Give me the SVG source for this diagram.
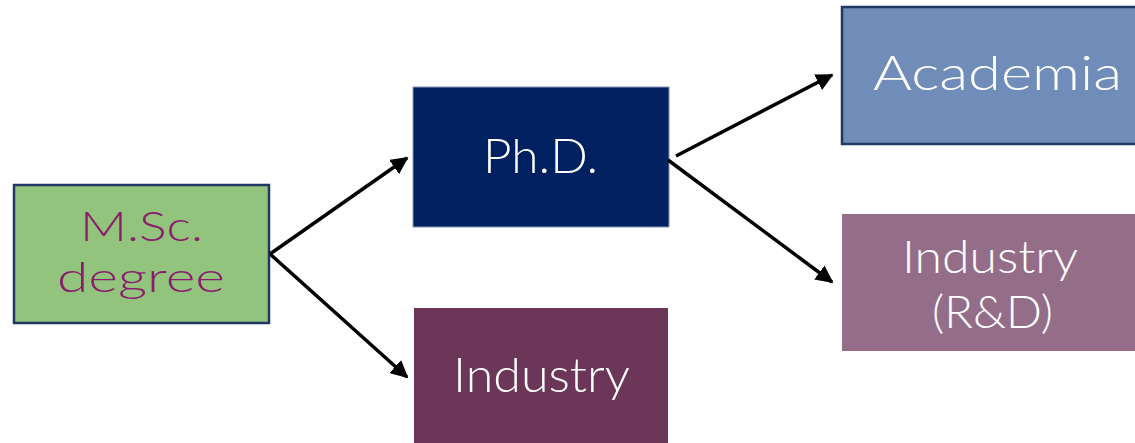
<svg xmlns="http://www.w3.org/2000/svg" width="1135" height="443" viewBox="0 0 1135 443">
<defs>
<marker id="ah" viewBox="0 0 10 10" refX="9" refY="5" markerWidth="5" markerHeight="5" orient="auto" markerUnits="strokeWidth">
<path d="M0,0 L10,5 L0,10 z" fill="#000"/>
</marker>
<style>
text{font-family:"Lato","Noto Sans",sans-serif;font-weight:300;font-size:48px;text-anchor:middle}
.w{fill:#ffffff}
.conn line{stroke:#000;stroke-width:3.5;marker-end:url(#ah)}
</style>
</defs>
<rect width="1135" height="443" fill="#fff"/>
<g id="msc">
<rect x="14" y="185" width="255" height="138" fill="#93c47d" stroke="#1f3864" stroke-width="2.5"/>
<text x="141.5" y="241" fill="#8a1d6e" style="font-size:42px" textLength="123" lengthAdjust="spacingAndGlyphs">M.Sc.</text>
<text x="141" y="292" fill="#8a1d6e" style="font-size:42px" textLength="168" lengthAdjust="spacingAndGlyphs">degree</text>
</g>
<g id="phd">
<rect x="413" y="87" width="256" height="140" fill="#002060" stroke="#8496b0" stroke-width="1"/>
<text x="540.5" y="173" class="w" textLength="115" lengthAdjust="spacingAndGlyphs">Ph.D.</text>
</g>
<g id="industry">
<rect x="414" y="308" width="254" height="135" fill="#6c3658"/>
<text x="541.5" y="392" class="w" textLength="177" lengthAdjust="spacingAndGlyphs">Industry</text>
</g>
<g id="academia">
<rect x="842" y="7" width="296" height="137" fill="#6f8db8" stroke="#1f3864" stroke-width="2.5"/>
<text x="997.5" y="90" class="w" textLength="249" lengthAdjust="spacingAndGlyphs">Academia</text>
</g>
<g id="industry-rd">
<rect x="842" y="214" width="296" height="137" fill="#946e89"/>
<text x="990" y="273" class="w" style="font-size:45px" textLength="176" lengthAdjust="spacingAndGlyphs">Industry</text>
<text x="992.5" y="328" class="w" style="font-size:45px" textLength="121" lengthAdjust="spacingAndGlyphs">(R&amp;D)</text>
</g>
<g class="conn">
<line x1="270" y1="254" x2="407" y2="158"/>
<line x1="270" y1="254" x2="407" y2="377"/>
<line x1="676" y1="156" x2="832" y2="75"/>
<line x1="668" y1="160" x2="832" y2="282"/>
</g>
</svg>
